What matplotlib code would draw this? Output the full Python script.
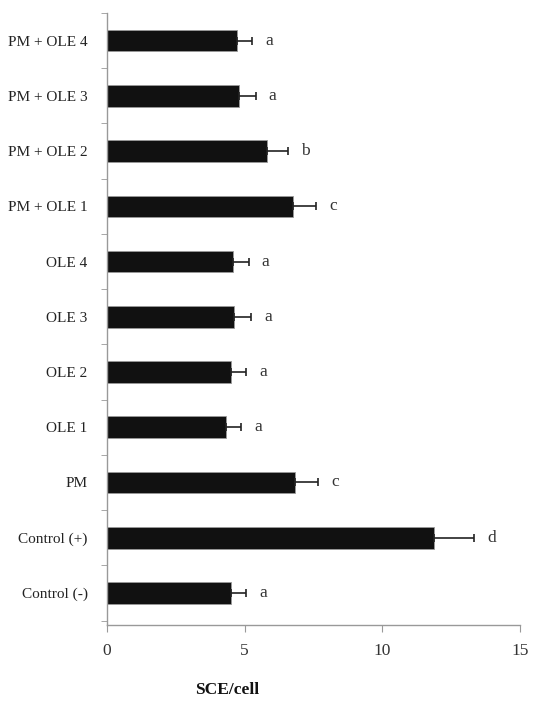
import numpy as np
import matplotlib.pyplot as plt

plt.rcParams['font.family'] = ['Liberation Serif', 'DejaVu Serif']

groups = ['Control (-)', 'Control (+)', 'PM', 'OLE 1', 'OLE 2', 'OLE 3', 'OLE 4',
          'PM + OLE 1', 'PM + OLE 2', 'PM + OLE 3', 'PM + OLE 4']
sce = [4.50, 11.87, 6.84, 4.32, 4.52, 4.63, 4.59, 6.74, 5.82, 4.80, 4.71]
err = [0.56, 1.45, 0.83, 0.54, 0.54, 0.59, 0.55, 0.84, 0.74, 0.60, 0.57]
letters = ['a', 'd', 'c', 'a', 'a', 'a', 'a', 'c', 'b', 'a', 'a']

fig = plt.figure(figsize=(5.36, 7.07), dpi=100)
ax = fig.add_axes([107 / 536, 1 - 625 / 707, (520 - 107) / 536, (625 - 13) / 707])

y = np.arange(len(groups))
# only the upper half of each error bar is drawn
ax.barh(y, sce, height=0.39, color='#111111', edgecolor='#9a9a9a', linewidth=0.6,
        xerr=[np.zeros(len(err)), err],
        error_kw=dict(ecolor='#222222', elinewidth=1.2, capsize=3, capthick=1.2))

for yi, v, e, lab in zip(y, sce, err, letters):
    ax.annotate(lab, (v + e, yi), xytext=(9.5, 0), textcoords='offset points',
                ha='left', va='center', fontsize=12.5, color='#333333')

ax.set_xlim(0, 15)
ax.set_ylim(-0.58, 10.5)
ax.set_xticks([0, 5, 10, 15])
ax.set_yticks(y)
ax.set_yticklabels(groups)
ax.set_yticks(np.arange(-0.5, 10.6, 1.0), minor=True)
ax.tick_params(axis='y', which='major', length=0, pad=14, labelsize=11, labelcolor='#222222')
ax.tick_params(axis='y', which='minor', length=4, color='#999999', direction='out')
ax.tick_params(axis='x', length=5, color='#999999', pad=8, labelsize=12.5, labelcolor='#333333')

for s in ['top', 'right']:
    ax.spines[s].set_visible(False)
for s in ['left', 'bottom']:
    ax.spines[s].set_color('#999999')
    ax.spines[s].set_linewidth(1.0)

fig.text(227 / 536, 1 - 690 / 707, 'SCE/cell', ha='center', va='center',
         fontsize=12.5, fontweight='bold', color='#111111')

fig.savefig('out.png', dpi=100, facecolor='white')
